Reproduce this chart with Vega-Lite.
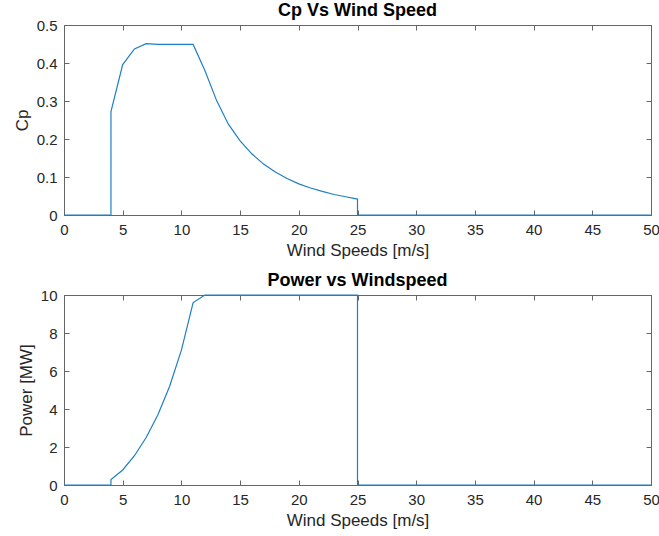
{
  "$schema": "https://vega.github.io/schema/vega-lite/v6.json",
  "background": "white",
  "padding": {"left": 12, "top": 1, "right": 5, "bottom": 5},
  "spacing": 12,
  "config": {
    "font": "Liberation Sans",
    "view": {"stroke": "#666666", "strokeWidth": 1},
    "axis": {
      "grid": false,
      "domainColor": "#666666",
      "tickColor": "#666666",
      "tickSize": -5,
      "labelColor": "#262626",
      "titleColor": "#262626",
      "labelFont": "Liberation Sans",
      "titleFont": "Liberation Sans",
      "labelFontSize": 15,
      "titleFontSize": 17,
      "titleFontWeight": "normal",
      "labelFlush": false
    },
    "axisX": {"labelPadding": 12, "titlePadding": 5},
    "axisY": {"labelPadding": 12, "titlePadding": 5},
    "title": {"font": "Liberation Sans", "fontSize": 18, "fontWeight": "bold", "color": "#000000", "offset": -2}
  },
  "datasets": {
    "cp": [
      {"speed": 0, "cp": 0}, {"speed": 4, "cp": 0}, {"speed": 4, "cp": 0.272},
      {"speed": 5, "cp": 0.396}, {"speed": 6, "cp": 0.437}, {"speed": 7, "cp": 0.451},
      {"speed": 8, "cp": 0.449}, {"speed": 9, "cp": 0.449}, {"speed": 10, "cp": 0.449},
      {"speed": 11, "cp": 0.449}, {"speed": 12, "cp": 0.38}, {"speed": 13, "cp": 0.301},
      {"speed": 14, "cp": 0.239}, {"speed": 15, "cp": 0.195}, {"speed": 16, "cp": 0.161},
      {"speed": 17, "cp": 0.134}, {"speed": 18, "cp": 0.113}, {"speed": 19, "cp": 0.096},
      {"speed": 20, "cp": 0.082}, {"speed": 21, "cp": 0.071}, {"speed": 22, "cp": 0.062},
      {"speed": 23, "cp": 0.054}, {"speed": 24, "cp": 0.048}, {"speed": 25, "cp": 0.042},
      {"speed": 25, "cp": 0}, {"speed": 50, "cp": 0}
    ],
    "power": [
      {"speed": 0, "power": 0}, {"speed": 4, "power": 0}, {"speed": 4, "power": 0.29},
      {"speed": 5, "power": 0.79}, {"speed": 6, "power": 1.54}, {"speed": 7, "power": 2.5},
      {"speed": 8, "power": 3.7}, {"speed": 9, "power": 5.2}, {"speed": 10, "power": 7.1},
      {"speed": 11, "power": 9.6}, {"speed": 12, "power": 10}, {"speed": 25, "power": 10},
      {"speed": 25, "power": 0}, {"speed": 50, "power": 0}
    ]
  },
  "vconcat": [
    {
      "width": 587,
      "height": 190,
      "title": "Cp Vs Wind Speed",
      "data": {"name": "cp"},
      "layer": [
        {
          "mark": {"type": "line", "color": "#1f7fc4", "strokeWidth": 1.2},
          "encoding": {
            "x": {"field": "speed", "type": "quantitative", "scale": {"domain": [0, 50], "nice": false},
                  "axis": {"values": [0,5,10,15,20,25,30,35,40,45,50], "title": "Wind Speeds [m/s]", "orient": "bottom"}},
            "y": {"field": "cp", "type": "quantitative", "scale": {"domain": [0, 0.5], "nice": false},
                  "axis": {"values": [0,0.1,0.2,0.3,0.4,0.5], "title": "Cp", "labelExpr": "datum.value == 0 ? '0' : format(datum.value, '.1f')"}},
            "order": {"value": null}
          }
        },
        {
          "mark": {"type": "line", "opacity": 0},
          "encoding": {
            "x": {"field": "speed", "type": "quantitative", "axis": {"values": [0,5,10,15,20,25,30,35,40,45,50], "orient": "top", "labels": false, "title": null}},
            "y": {"field": "cp", "type": "quantitative", "axis": {"values": [0,0.1,0.2,0.3,0.4,0.5], "orient": "right", "labels": false, "title": null}},
            "order": {"value": null}
          }
        }
      ],
      "resolve": {"axis": {"x": "independent", "y": "independent"}}
    },
    {
      "width": 587,
      "height": 190,
      "title": "Power vs Windspeed",
      "data": {"name": "power"},
      "layer": [
        {
          "mark": {"type": "line", "color": "#1f7fc4", "strokeWidth": 1.2},
          "encoding": {
            "x": {"field": "speed", "type": "quantitative", "scale": {"domain": [0, 50], "nice": false},
                  "axis": {"values": [0,5,10,15,20,25,30,35,40,45,50], "title": "Wind Speeds [m/s]", "orient": "bottom"}},
            "y": {"field": "power", "type": "quantitative", "scale": {"domain": [0, 10], "nice": false},
                  "axis": {"values": [0,2,4,6,8,10], "title": "Power [MW]"}},
            "order": {"value": null}
          }
        },
        {
          "mark": {"type": "line", "opacity": 0},
          "encoding": {
            "x": {"field": "speed", "type": "quantitative", "axis": {"values": [0,5,10,15,20,25,30,35,40,45,50], "orient": "top", "labels": false, "title": null}},
            "y": {"field": "power", "type": "quantitative", "axis": {"values": [0,2,4,6,8,10], "orient": "right", "labels": false, "title": null}},
            "order": {"value": null}
          }
        }
      ],
      "resolve": {"axis": {"x": "independent", "y": "independent"}}
    }
  ]
}
